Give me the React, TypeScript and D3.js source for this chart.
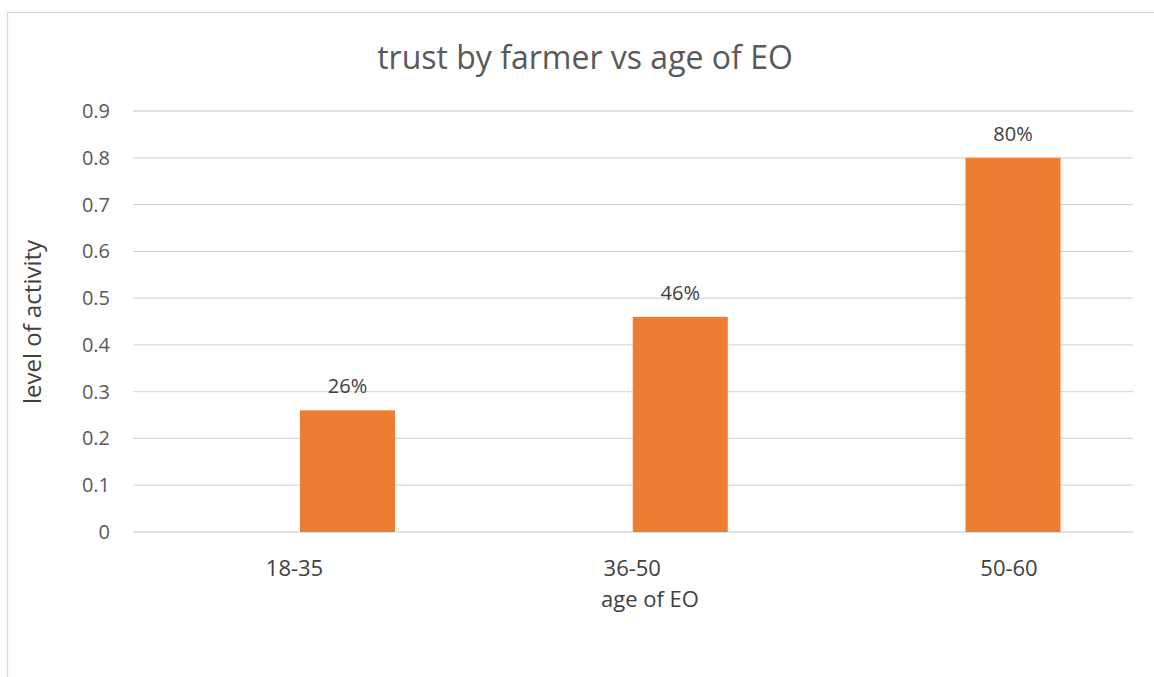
import React from "react";
import * as d3 from "d3";

const categories = ["18-35", "36-50", "50-60"];
const values = [0.26, 0.46, 0.8];
const valueLabels = ["26%", "46%", "80%"];
const yTicks = [0, 0.1, 0.2, 0.3, 0.4, 0.5, 0.6, 0.7, 0.8, 0.9];
const titleText = "trust by farmer vs age of EO";
const xTitle = "age of EO";
const yTitle = "level of activity";

const W = 1154;
const H = 677;
const FONT = "'Open Sans', 'Noto Sans', sans-serif";
const TEXT = "#595959";
const DARK = "#404040";
const GRID = "#D9D9D9";
const BAR = "#ED7D31";
const labelShift = [-53, -48, -4];

export default function App() {
  const x = d3.scalePoint<string>().domain(categories).range([347.5, 1013]);
  const y = d3.scaleLinear().domain([0, 0.9]).range([532, 111]);
  const barW = 95;
  const gridX0 = 133;
  const gridX1 = 1133;

  return (
    <svg
      width={W}
      height={H}
      style={{ position: "absolute", left: 0, top: 0, background: "#fff" }}
      fontFamily={FONT}
    >
      <rect x={0} y={0} width={W} height={H} fill="#fff" />
      <rect x={7.5} y={12.5} width={W + 20} height={H + 20} fill="#fff" stroke={GRID} strokeWidth={1.3} />
      <text x={585} y={69} textAnchor="middle" fontSize={32} fill={TEXT}>
        {titleText}
      </text>
      {yTicks.map((t) => (
        <g key={t}>
          <line x1={gridX0} x2={gridX1} y1={y(t)} y2={y(t)} stroke={GRID} strokeWidth={1.3} />
          <text x={110} y={y(t) + 7} textAnchor="end" fontSize={20} fill={TEXT}>
            {d3.format("")(+t.toFixed(1))}
          </text>
        </g>
      ))}
      {categories.map((c, i) => (
        <g key={c}>
          <rect
            x={(x(c) as number) - barW / 2}
            y={y(values[i])}
            width={barW}
            height={y(0) - y(values[i])}
            fill={BAR}
          />
          <text
            x={x(c) as number}
            y={y(values[i]) - 17}
            textAnchor="middle"
            fontSize={20}
            fill={DARK}
          >
            {valueLabels[i]}
          </text>
          <text
            x={(x(c) as number) + labelShift[i]}
            y={576}
            textAnchor="middle"
            fontSize={22}
            fill={DARK}
          >
            {c}
          </text>
        </g>
      ))}
      <text x={650} y={607} textAnchor="middle" fontSize={22} fill={DARK}>
        {xTitle}
      </text>
      <text
        transform={`translate(41, 322) rotate(-90)`}
        textAnchor="middle"
        fontSize={24}
        fill={DARK}
      >
        {yTitle}
      </text>
    </svg>
  );
}
